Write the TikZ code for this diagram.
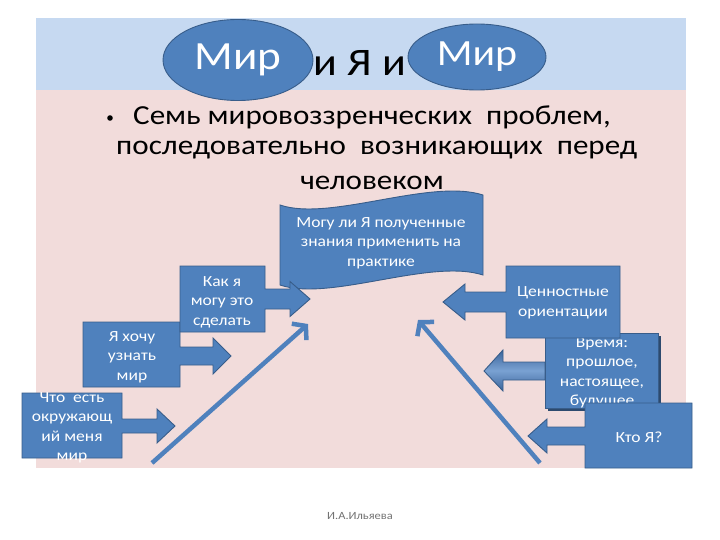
\documentclass[tikz,border=0pt]{standalone}
\usepackage{fontspec}
\setmainfont[FakeStretch=1.13]{Carlito}
\usetikzlibrary{arrows.meta,shapes.geometric,calc}
\definecolor{bandblue}{HTML}{C6D9F1}
\definecolor{pinkbg}{HTML}{F2DCDB}
\definecolor{boxblue}{HTML}{4F81BD}
\definecolor{boxedge}{HTML}{385D8A}
\definecolor{darkblue}{HTML}{3A659B}
\definecolor{lightblue}{HTML}{7AA1D2}
\newcommand{\callout}[9]{%
  \filldraw[calloutshape] (#1,#3) -- (#2,#3) -- (#2,{#5-#6}) -- (#8,{#5-#6}) -- (#8,{#5-#7}) -- (#9,#5)
  -- (#8,{#5+#7}) -- (#8,{#5+#6}) -- (#2,{#5+#6}) -- (#2,#4) -- (#1,#4) -- cycle;}
\tikzset{
  calloutshape/.style={fill=boxblue, draw=boxedge, line width=0.9pt, line join=miter},
  boxtext/.style={text=white, align=center, font=\fontsize{15.5}{19.5}\selectfont, inner sep=0pt},
  diag/.style={draw=boxblue, line width=4.5pt, -{Straight Barb[length=9pt,width=22pt,line width=4.5pt]}},
  ell/.style={ellipse, fill=boxblue, draw=boxedge, line width=0.9pt, text=white, inner sep=0pt},
  bigtext/.style={font=\fontsize{27.5}{33}\selectfont, inner sep=0pt},
}
\begin{document}
\begin{tikzpicture}[x=1pt,y=-1pt]
\useasboundingbox (0,0) rectangle (720,540);
\fill[white] (0,0) rectangle (720,540);
% slide background
\fill[bandblue] (36,18) rectangle (686,90);
\fill[pinkbg] (36,90) rectangle (686,468);
% title
\node[ell, minimum width=150pt, minimum height=81pt, font=\fontsize{40}{40}\selectfont] (mir1) at (238,60) {Мир};
\node[font=\fontsize{39}{39}\selectfont, inner sep=0pt] (ia) at (360,63) {и Я и};
\node[ell, minimum width=138pt, minimum height=66pt, font=\fontsize{37}{37}\selectfont] (mir2) at (477,57) {Мир};
% bullet text
\fill (110,118) circle (2.8pt);
\node[bigtext, anchor=west] (bul) at (133,117) {Семь мировоззренческих\ \ проблем,};
\node[bigtext, anchor=west] (bul2) at (116,150) {последовательно\ \ возникающих\ \ перед};
\node[bigtext] (bul3) at (372,183) {человеком};
% wave shape
\filldraw[calloutshape] (280,205) .. controls (330,222) and (430,178) .. (483,195)
  -- (483,275) .. controls (430,258) and (330,302) .. (280,285) -- cycle;
\node[boxtext] (wave) at (381,243) {Могу ли Я полученные\\знания применить на\\практике};
% left callouts (pointing right)
\callout{22}{122}{393}{458}{426}{7}{17}{157}{175}
\node[boxtext] (q1) at (72,428) {Что\ \ есть\\окружающ\\ий меня\\мир};
\callout{83}{180}{322}{387}{356}{9}{18}{213}{231}
\node[boxtext] (q2) at (132,357) {Я хочу\\узнать\\мир};
\callout{180}{265}{266}{332}{299}{10}{17.5}{290}{310}
\node[boxtext] (q3) at (222,302) {Как я\\могу это\\сделать};
% diagonal arrows
\coordinate (l1) at (152,463);
\coordinate (l2) at (308,324);
\coordinate (r1) at (540,463);
\coordinate (r2) at (418,320);
\draw[diag] (l1) -- (l2);
\draw[diag] (r1) -- (r2);
% Time box (under the others)
\fill[boxedge!80!black] (548,336) rectangle (661,411);
\shade[top color=darkblue, bottom color=darkblue, middle color=lightblue, draw=boxedge, line width=0.9pt]
  (545,362) -- (503,362) -- (503,350) -- (484,371) -- (503,391) -- (503,380) -- (545,380) -- cycle;
\filldraw[calloutshape] (545,333) rectangle (658,408);
\node[boxtext] (q5) at (602,373) {Время:\\прошлое,\\настоящее,\\будущее};
% right callouts (pointing left)
\callout{620}{506}{266}{338}{302}{10}{18}{465}{443}
\node[boxtext] (q4) at (563,303) {Ценностные\\ориентации};
\callout{692}{585}{403}{468}{436}{9}{17}{547}{528}
\node[boxtext] (q6) at (639,437) {Кто Я?};
% footer
\node[text=black!55, font=\fontsize{11}{11}\selectfont, inner sep=0pt] (foot) at (360,516) {И.А.Ильяева};
\end{tikzpicture}
\end{document}
